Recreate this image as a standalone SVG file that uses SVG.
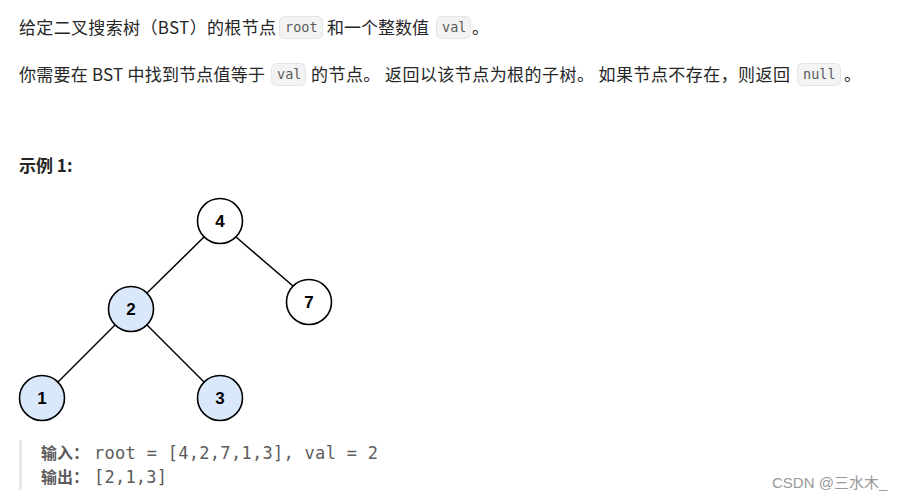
<svg xmlns="http://www.w3.org/2000/svg" width="903" height="500" viewBox="0 0 903 500">
<style>
.t{font-family:"Noto Sans CJK SC","Liberation Sans",sans-serif;font-size:17px;fill:#262626}
.code{fill:#f3f3f3;stroke:#e4e4e4;stroke-width:1}
.ct{font-family:"DejaVu Sans Mono","Liberation Mono",monospace;font-size:13.5px;fill:#5a5a5a}
.n{stroke:#000;stroke-width:1.6}
.w{fill:#fff}
.b{fill:#dae8fc}
.nt{font-family:"Liberation Sans",Arial,sans-serif;font-size:17px;font-weight:bold;fill:#000;text-anchor:middle}
.e{stroke:#000;stroke-width:1.5;fill:none}
.q{font-family:"Noto Sans CJK SC",sans-serif;font-size:16px;font-weight:bold;fill:#5c5c5c}
.qm{font-family:"DejaVu Sans Mono","Liberation Mono",monospace;font-size:17px;fill:#5c5c5c}
</style>
<rect width="903" height="500" fill="#fff"/>
<g id="text1">
<text class="t" x="19" y="34" textLength="257" lengthAdjust="spacing">给定二叉搜索树（BST）的根节点</text>
<rect class="code" x="279.500" y="16.500" width="43" height="22" rx="5"/>
<text class="ct" x="285" y="32">root</text>
<text class="t" x="327" y="34">和一个整数值</text>
<rect class="code" x="436.500" y="16.500" width="34" height="22" rx="5"/>
<text class="ct" x="442" y="32">val</text>
<text class="t" x="472" y="34">。</text>
</g>
<g id="text2">
<text class="t" x="19" y="81" textLength="246" lengthAdjust="spacing">你需要在 BST 中找到节点值等于</text>
<rect class="code" x="271.500" y="63.500" width="34" height="22" rx="5"/>
<text class="ct" x="277" y="79">val</text>
<text class="t" x="311" y="81" textLength="479" lengthAdjust="spacing">的节点。 返回以该节点为根的子树。 如果节点不存在，则返回</text>
<rect class="code" x="797.500" y="63.500" width="43" height="22" rx="5"/>
<text class="ct" x="803" y="79">null</text>
<text class="t" x="844" y="81">。</text>
</g>
<text id="title" class="t" x="19" y="172" font-weight="bold">示例 1:</text>
<g id="edges">
<line class="e" x1="204" y1="237" x2="147" y2="293"/>
<line class="e" x1="236" y1="237" x2="293" y2="286"/>
<line class="e" x1="115" y1="325" x2="58" y2="382"/>
<line class="e" x1="147" y1="325" x2="204" y2="382"/>
</g>
<g id="node4"><circle class="n w" cx="220" cy="221" r="22.500"/><text class="nt" x="220" y="227">4</text></g>
<g id="node7"><circle class="n w" cx="309" cy="302" r="22.500"/><text class="nt" x="309" y="308">7</text></g>
<g id="node2"><circle class="n b" cx="131" cy="309" r="22.500"/><text class="nt" x="131" y="315">2</text></g>
<g id="node1"><circle class="n b" cx="42" cy="398" r="22.500"/><text class="nt" x="42" y="404">1</text></g>
<g id="node3"><circle class="n b" cx="220" cy="398" r="22.500"/><text class="nt" x="220" y="404">3</text></g>
<g id="example">
<rect x="19" y="440" width="3" height="50" fill="#e8e8e8"/>
<text x="41" y="459"><tspan class="q">输入：</tspan><tspan class="qm" x="94" textLength="284" lengthAdjust="spacing">root = [4,2,7,1,3], val = 2</tspan></text>
<text x="41" y="483"><tspan class="q">输出：</tspan><tspan class="qm" x="94" textLength="73" lengthAdjust="spacing">[2,1,3]</tspan></text>
</g>
<text id="watermark" x="772" y="488" font-family="Liberation Sans,Noto Sans CJK SC,sans-serif" font-size="15" fill="#999">CSDN @三水木_</text>
</svg>
